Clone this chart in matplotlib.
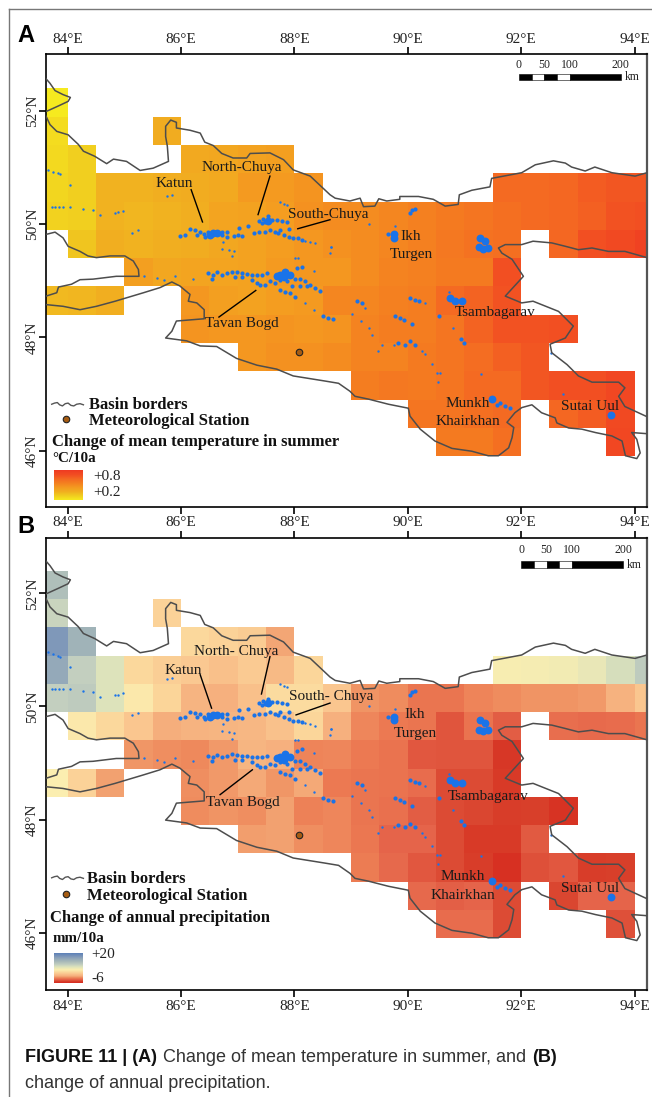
import matplotlib
matplotlib.use('Agg')
import matplotlib.pyplot as plt
from matplotlib.colors import LinearSegmentedColormap, Normalize
from matplotlib.lines import Line2D
import numpy as np

n = np.nan
W, H = 652., 1097.

lon_edges = np.arange(83.5, 95.0, 0.5)
lat_edges = np.arange(52.4, 45.85, -0.5)

# summer temperature trend, degC/10a, rows north to south
temp = np.array([
    [.20,n,n,n,n,n,n,n,n,n,n,n,n,n,n,n,n,n,n,n,n,n],
    [.24,n,n,n,.38,n,n,n,n,n,n,n,n,n,n,n,n,n,n,n,n,n],
    [.25,.28,n,n,n,.39,.40,.42,.43,n,n,n,n,n,n,n,n,n,n,n,n,n],
    [.26,.28,.36,.36,.37,.38,.39,.45,.45,.47,n,n,n,n,n,n,.62,.62,.63,.66,.68,.68],
    [.27,.28,.36,.35,.36,.37,.41,.42,.44,.48,.50,.50,.52,.54,.56,.58,.60,.62,.63,.65,.69,.70],
    [n,.31,.37,.36,.37,.38,.40,.42,.44,.46,.48,.50,.52,.54,.57,.59,.60,n,.63,.70,.73,.76],
    [n,n,n,.43,.40,.41,.41,.42,.45,.46,.46,.50,.53,.54,.56,.56,.70,n,n,n,n,n],
    [.34,.35,.37,n,n,.46,.43,.42,.44,.45,.52,.52,.54,.55,.62,.64,.69,n,n,n,n,n],
    [n,n,n,n,n,.47,.46,.46,.47,.46,.47,.53,.55,.55,.58,.64,.69,.69,.70,n,n,n],
    [n,n,n,n,n,n,n,.46,.48,.48,.50,.53,.53,.56,.58,.61,.65,.68,n,n,n,n],
    [n,n,n,n,n,n,n,n,n,n,n,.55,.57,.56,.58,.62,.62,.68,.70,.70,.74,n],
    [n,n,n,n,n,n,n,n,n,n,n,n,n,.58,.58,.60,.62,n,.63,.66,.73,n],
    [n,n,n,n,n,n,n,n,n,n,n,n,n,n,.56,.56,.60,n,n,n,.74,n],
])

# annual precipitation trend, mm/10a
prec = np.array([
    [12,n,n,n,n,n,n,n,n,n,n,n,n,n,n,n,n,n,n,n,n,n],
    [9.5,n,n,n,3,n,n,n,n,n,n,n,n,n,n,n,n,n,n,n,n,n],
    [17,13.5,n,n,n,3.5,3,2.5,-.3,n,n,n,n,n,n,n,n,n,n,n,n,n],
    [15,10,8,3.5,2.7,2.2,1.5,2.3,1,3.3,n,n,n,n,n,n,5.8,6,6.2,7,8.5,10.5],
    [10,10.5,8,5,3.2,.5,.2,1.5,3.8,3.8,2,-1,-1.3,-2.2,-2.2,-1.6,-1.3,-1,-1,-.8,.3,2],
    [n,5,3.5,2,0,.4,.6,.8,1.6,3.3,.2,-1.5,-2,-2.2,-3.6,-2.3,-3.3,n,-2.5,-2.7,-2.6,-2.2],
    [n,n,n,-.9,-1.2,-1.4,-.8,.6,.2,-1.6,-1.5,-2,-2.3,-3.5,-3.6,-3.6,-5,n,n,n,n,n],
    [5.5,3,-.5,n,n,-1.2,-.8,-.2,-.9,-.2,-2,-2.2,-2.3,-2.6,-4,-4,-4.8,n,n,n,n,n],
    [n,n,n,n,n,-1.3,-1,-1.2,-.5,-1.7,-1.5,-2.2,-2.4,-3.3,-4,-4.2,-4.6,-4.5,-5.3,n,n,n],
    [n,n,n,n,n,n,n,-.6,-.5,-1.2,-1.5,-2.1,-3,-3,-4,-4.8,-4.8,-3.4,n,n,n,n],
    [n,n,n,n,n,n,n,n,n,n,n,-1.9,-2.8,-3.5,-4,-4.6,-5.5,-3.8,-3.5,-4.6,-4.5,n],
    [n,n,n,n,n,n,n,n,n,n,n,n,n,-2.8,-3.2,-3,-4,n,-4.2,-3,-3,n],
    [n,n,n,n,n,n,n,n,n,n,n,n,n,n,-2.6,-2.6,-4,n,n,n,-3.8,n],
])

temp_levels = [.2,.3,.37,.45,.55,.62,.7,.8]
temp_colors = ['#f6ea1f','#f0c81f','#f1ae20','#f49a20','#f47d20','#f46a22','#f24f22','#ef3a22']
prec_levels = [-6,-4.5,-3,-2,-1,0,2,3.5,5.5,8,10,13,15,17,20]
prec_colors = ['#d6291e','#d83f2a','#e5644a','#ec7a52','#f09464','#f5ae7c','#fac68f','#fbd89c',
               '#fbeeb0','#dde3bb','#c3cfbf','#a5b7b8','#94a9b9','#7f98b9','#5c80b8']

def make_cmap(levels, colors):
    lo, hi = levels[0], levels[-1]
    return LinearSegmentedColormap.from_list('c', [((v-lo)/(hi-lo), c) for v, c in zip(levels, colors)], N=512), Normalize(lo, hi)

# basin border polylines (lon, lat)
border_a = [(83.62,52.57),(83.69,52.49),(83.78,52.36),(83.92,52.29),(84.05,52.24),(84.01,52.17),(83.84,52.09),(83.62,51.99)]
border_b = [(83.62,51.91),(83.69,51.76),(83.81,51.64),(84.01,51.58),(84.19,51.41),(84.28,51.29),(84.48,51.20),(84.69,51.07),
            (84.81,51.15),(85.04,51.11),(85.28,50.95),(85.51,50.99),(85.78,51.11),(85.76,51.38),(85.73,51.55),(85.73,51.73),
            (85.82,51.84),(85.92,51.80),(85.92,51.70),(86.16,51.66),(86.34,51.61),(86.42,51.45),(86.57,51.39),(86.72,51.25),
            (86.92,51.17),(87.16,51.17),(87.22,51.25),(87.57,51.26),(87.81,51.14),(87.98,50.96),(88.28,50.85),(88.63,50.52),
            (88.72,50.46),(88.98,50.41),(89.16,50.46),(89.22,50.31),(89.42,50.32),(89.49,50.45),(89.63,50.41),(89.86,50.44),
            (89.86,50.49),(90.19,50.49),(90.45,50.44),(90.66,50.32),(90.89,50.35),(90.91,50.52),(91.13,50.60),(91.45,50.66),
            (91.48,50.81),(92.01,50.91),(92.25,51.05),(92.57,51.12),(92.78,51.08),(92.89,51.01),(93.13,50.94),(93.30,51.01),
            (93.60,50.91),(94.01,50.85),(94.22,50.91)]
border_c = [(83.62,49.82),(83.78,49.86),(83.92,49.76),(84.01,49.61),(84.22,49.52),(84.36,49.44),(84.51,49.41),(84.75,49.44),
            (85.01,49.44),(85.16,49.35),(85.25,49.20),(85.26,49.08),(84.86,49.08),(84.45,49.03),(84.22,49.02),(84.07,48.94),
            (83.84,48.89),(83.81,48.79),(83.62,48.73)]
border_d = [(83.62,48.58),(83.92,48.55),(84.22,48.49),(84.51,48.55),(84.84,48.64),(85.34,48.79),(85.63,48.88),(85.84,48.98),
            (85.98,48.91),(86.16,48.76),(86.13,48.64),(86.28,48.61),(86.41,48.49),(86.41,48.33),(85.92,48.29),(85.84,48.11),
            (85.73,47.99),(86.10,47.94),(86.34,47.85),(86.63,47.84),(86.98,47.63),(87.34,47.51),(87.69,47.44),(87.98,47.32),
            (88.54,47.23),(88.78,47.19),(88.98,47.05),(89.07,46.96),(89.31,46.91),(89.66,46.82),(90.01,46.75),(90.04,46.61),
            (90.22,46.38),(90.48,46.17),(90.78,46.04),(91.13,45.99),(91.42,45.91),(91.60,45.91),(91.78,46.05),(91.84,46.23),
            (91.87,46.41),(91.75,46.50),(91.89,46.67),(92.01,46.76),(92.19,46.81),(92.36,46.67),(92.60,46.58),(92.63,46.49),
            (92.84,46.40),(93.07,46.38),(93.31,46.32),(93.60,46.26),(93.78,46.17),(93.84,45.91),(94.04,45.86),(94.10,45.96),
            (94.04,46.20),(93.95,46.32),(94.22,46.30)]
border_e = [(94.22,46.60),(93.83,46.78),(93.72,46.96),(93.83,47.11),(93.72,47.21),(93.25,47.21),(93.01,47.32),(92.81,47.52),
            (92.54,47.73),(92.51,47.88),(92.78,47.99),(92.92,48.20),(92.66,48.46),(92.21,48.64),(92.01,48.61),(91.72,48.73),
            (92.04,49.08),(91.84,49.38),(91.66,49.49),(91.60,49.58),(91.72,49.64),(92.01,49.64),(92.21,49.70),(92.54,49.67),
            (92.78,49.61),(93.01,49.55),(93.25,49.58),(93.54,49.52),(93.83,49.52),(94.22,49.41)]
borders = [border_a, border_b, border_c, border_d, border_e]

# glacier patches (lon, lat), small specks and larger blobs
glacier_small = [(83.66,50.96),(83.75,50.93),(83.83,50.90),(83.87,50.88),(84.04,50.69),(83.72,50.31),(83.78,50.31),(83.85,50.31),
    (83.92,50.31),(84.05,50.31),(84.28,50.27),(84.45,50.25),(84.57,50.17),(84.84,50.20),(84.98,50.24),(84.89,50.21),(85.13,49.85),
    (85.25,49.89),(85.75,50.49),(85.84,50.51),(86.75,49.69),(86.72,49.57),(86.84,49.55),(86.93,49.53),(86.90,49.43),(88.19,49.71),
    (88.28,49.69),(88.37,49.66),(87.75,50.40),(87.81,50.36),(87.87,50.34),(88.64,49.60),(88.63,49.49),(88.01,49.41),(88.07,49.41),
    (85.34,49.08),(85.57,49.05),(86.22,49.04),(88.34,49.17),(88.19,48.61),(88.34,48.48),(89.25,48.52),(89.01,48.42),(89.18,48.29),
    (89.31,48.17),(89.37,48.05),(90.31,48.60),(89.54,47.86),(89.75,47.86),(89.48,47.76),(90.25,47.76),(90.31,47.70),(90.42,47.53),
    (90.51,47.38),(90.57,47.38),(90.54,47.21),(90.73,48.80),(90.79,48.17),(91.29,47.36),(92.73,47.00),(92.53,47.73),(89.31,50.00),
    (88.65,49.60),(89.78,49.96),(85.90,49.08),(85.70,49.02)]
glacier_mid = [(85.98,49.79),(86.07,49.81),(86.16,49.91),(86.25,49.89),(86.28,49.81),(86.34,49.87),(86.40,49.82),(86.48,49.87),
    (86.43,49.78),(86.72,49.87),(86.81,49.87),(86.72,49.81),(86.81,49.78),(86.93,49.79),(87.01,49.81),(87.07,49.80),(87.03,49.93),
    (87.19,49.96),(87.28,49.84),(87.37,49.87),(87.37,50.06),(87.45,50.10),(87.53,50.14),(87.60,50.07),(87.69,50.07),(87.78,50.06),
    (87.87,50.04),(87.48,50.04),(87.43,50.02),(87.48,49.87),(87.57,49.90),(87.66,49.87),(87.75,49.90),(87.72,49.84),(87.81,49.81),
    (87.90,49.78),(87.98,49.75),(88.07,49.75),(88.13,49.72),(87.90,49.91),(86.48,49.13),(86.57,49.10),(86.63,49.15),(86.72,49.10),
    (86.81,49.13),(86.90,49.16),(86.98,49.15),(87.07,49.13),(87.16,49.12),(87.25,49.10),(87.34,49.10),(87.43,49.10),(87.51,49.13),
    (86.54,49.04),(86.95,49.06),(87.07,49.06),(87.25,49.02),(88.01,49.04),(88.10,49.03),(88.19,48.99),(88.28,48.93),(88.37,48.87),
    (88.45,48.82),(88.04,49.22),(88.13,49.24),(87.40,48.93),(87.48,48.93),(87.57,48.99),(87.66,48.96),(87.75,49.02),(87.87,48.99),
    (87.75,48.84),(87.84,48.81),(87.93,48.78),(88.01,48.72),(87.95,48.90),(88.10,48.90),(88.22,48.90),(87.34,48.97),(88.51,48.38),
    (88.60,48.35),(88.69,48.33),(89.10,48.64),(89.19,48.61),(90.04,48.70),(90.13,48.66),(90.19,48.64),(89.78,48.38),(89.86,48.35),
    (89.93,48.31),(90.07,48.24),(89.83,47.90),(89.95,47.87),(90.04,47.93),(90.13,47.87),(90.56,48.38),(90.94,47.97),(91.00,47.91),
    (91.62,46.85),(91.71,46.79),(91.57,46.81),(91.80,46.75),(90.07,50.26),(90.13,50.27),(90.04,50.20),(89.66,49.82)]
glacier_big = [(86.57,49.85),(86.51,49.81),(86.63,49.84),(87.54,50.06),(87.75,49.10),(87.84,49.16),(87.93,49.10),(87.81,49.06),
    (87.69,49.09),(90.83,48.64),(90.95,48.64),(90.74,48.70),(91.48,46.91),(93.59,46.63),(89.75,49.82),(89.75,49.76),(91.37,49.70),
    (91.28,49.76),(91.33,49.56),(91.42,49.58),(91.26,49.59)]

xticks = [84, 86, 88, 90, 92, 94]
xlabels = ['84°E', '86°E', '88°E', '90°E', '92°E', '94°E']
yticks = [46, 48, 50, 52]
ylabels = ['46°N', '48°N', '50°N', '52°N']
scale_edges_km = [0, 25, 50, 75, 100, 200]
scale_labels_km = [0, 50, 100, 200]
wave_dx = [0, .05, .1, .14, .19, .24, .29, .34, .39, .44, .5, .56]
wave_dy = [0, .02, .03, -.01, -.03, .01, .02, -.02, -.03, 0, .01, -.01]
serif = 'Liberation Serif'
dark = '#222222'

fig = plt.figure(figsize=(W/100, H/100), dpi=100)

def panel(top, bottom, ylim, grid, levels, colors, lab, leg, sb):
    ax = fig.add_axes([46/W, 1-bottom/H, (647-46)/W, (bottom-top)/H])
    cmap, norm = make_cmap(levels, colors)
    ax.pcolormesh(lon_edges, lat_edges, np.ma.masked_invalid(grid), cmap=cmap, norm=norm, antialiased=False, rasterized=True, zorder=1)
    for b in borders:
        b = np.array(b)
        ax.plot(b[:,0], b[:,1], color='#4d4d4d', lw=1.1, zorder=3)
    for pts, s in ((glacier_small, 3), (glacier_mid, 9), (glacier_big, 32)):
        pts = np.array(pts)
        ax.scatter(pts[:,0], pts[:,1], s=s, color='#1a73e8', marker='o', linewidths=0, zorder=2)
    ax.scatter([88.08], [lab['station']], s=22, color='#a65c12', edgecolor='#222222', linewidths=.8, zorder=4)
    for name, x, y, ha in lab['names']:
        ax.text(x, y, name, family=serif, fontsize=11, ha=ha, va='center', color='#1a1a1a', zorder=5)
    for xs, ys in lab['leaders']:
        ax.plot(xs, ys, color='k', lw=1.0, zorder=5)
    ax.set_xlim(83.62, 94.22)
    ax.set_ylim(*ylim)
    ax.set_xticks(xticks)
    ax.set_yticks(yticks)
    ax.set_xticklabels(xlabels, family=serif, fontsize=11, color=dark)
    ax.set_yticklabels(ylabels, family=serif, fontsize=11, color=dark, rotation=90, va='center')
    ax.tick_params(axis='x', top=True, labeltop=True, bottom=True, labelbottom=False, length=5, width=1.2, pad=1)
    ax.tick_params(axis='y', left=True, length=4.7, width=1.2, pad=0.5)
    if lab['bottom_labels']:
        for v, s in zip(xticks, xlabels):
            ax.annotate(s, xy=(v, 0), xycoords=('data', 'axes fraction'), xytext=(0, -17), textcoords='offset pixels',
                        family=serif, fontsize=11, color=dark, ha='center', va='center', annotation_clip=False)
    for s in ax.spines.values():
        s.set_linewidth(1.2)
    ax.spines['right'].set_color('#555555')
    ax.spines['right'].set_linewidth(1.6)

    # scale bar
    km = np.array(scale_edges_km)*0.009
    for i in range(5):
        ax.barh(sb['y'], km[i+1]-km[i], sb['h'], left=sb['x']+km[i], color='k' if i % 2 == 0 else 'w',
                edgecolor='k', linewidth=.4, zorder=4)
    for k in scale_labels_km:
        ax.text(sb['x']+k*0.009, sb['ty'], str(k), family=serif, fontsize=8.5, ha='center', va='center', color=dark)
    ax.text(sb['kx'], sb['y'], 'km', family=serif, fontsize=8.5, ha='left', va='center', color=dark)

    # legend
    ax.plot(83.72+np.array(wave_dx), leg['wave_lat']+np.array(wave_dy), color='#555555', lw=1.0)
    ax.scatter([83.98], [leg['dot_lat']], s=22, color='#a65c12', edgecolor='#222222', linewidths=.8, zorder=4)
    for txt, x, y, fs in leg['texts']:
        fig.text(x/W, 1-y/H, txt, family=serif, fontweight='bold', fontsize=fs, ha='left', va='center', color='#111111')
    cax = fig.add_axes([leg['cb'][0]/W, 1-leg['cb'][3]/H, (leg['cb'][1]-leg['cb'][0])/W, (leg['cb'][3]-leg['cb'][2])/H])
    cax.imshow(np.linspace(levels[-1], levels[0], 256)[:, None], cmap=cmap, norm=norm, aspect='auto')
    cax.axis('off')
    for txt, x, y in leg['cb_labels']:
        fig.text(x/W, 1-y/H, txt, family=serif, fontsize=11, ha='left', va='center', color=dark)
    return ax

panel(54, 506.7, (45.01, 53.007), temp, temp_levels, temp_colors,
      dict(station=47.74, bottom_labels=False,
           names=[('North-Chuya',87.07,51.0,'center'),('Katun',85.89,50.72,'center'),('South-Chuya',87.88,50.17,'left'),
                  ('Ikh',90.06,49.78,'center'),('Turgen',90.06,49.46,'center'),('Tavan Bogd',87.07,48.25,'center'),
                  ('Tsambagarav',91.54,48.44,'center'),('Munkh',91.06,46.83,'center'),('Khairkhan',91.06,46.51,'center'),
                  ('Sutai Uul',93.22,46.78,'center')],
           leaders=[((86.18,86.38),(50.61,50.04)),((87.57,87.36),(50.85,50.17)),((88.06,88.63),(49.92,50.08)),((86.67,87.32),(48.36,48.83))]),
      dict(wave_lat=46.82, dot_lat=46.56,
           texts=[('Basin borders',89,405,12),('Meteorological Station',89,421,12),('Change of mean temperature in summer',52,442,12),('°C/10a',52,459,10.8)],
           cb=(54,83,470,499.5), cb_labels=[('+0.8',93,477),('+0.2',93,493)]),
      dict(x=91.96, y=52.60, h=.12, ty=52.82, kx=93.82))

panel(537.7, 990, (44.986, 52.984), prec, prec_levels, prec_colors,
      dict(station=47.72, bottom_labels=True,
           names=[('North- Chuya',86.97,50.97,'center'),('Katun',86.04,50.64,'center'),('South- Chuya',87.91,50.17,'left'),
                  ('Ikh',90.13,49.85,'center'),('Turgen',90.13,49.53,'center'),('Tavan Bogd',87.10,48.31,'center'),
                  ('Tsambagarav',91.41,48.41,'center'),('Munkh',90.97,46.99,'center'),('Khairkhan',90.97,46.66,'center'),
                  ('Sutai Uul',93.22,46.78,'center')],
           leaders=[((86.34,86.54),(50.56,49.97)),((87.57,87.42),(50.88,50.22)),((88.03,88.63),(49.85,50.06)),((86.69,87.26),(48.44,48.88))]),
      dict(wave_lat=46.97, dot_lat=46.68,
           texts=[('Basin borders',87,879,12),('Meteorological Station',87,896,12),('Change of annual precipitation',50,918,12),('mm/10a',53,938,10.8)],
           cb=(53.5,82,953,983), cb_labels=[('+20',91,954),('-6',91,979)]),
      dict(x=92.0, y=52.51, h=.13, ty=52.76, kx=93.86))

# panel letters
fig.text(17/W, 1-35/H, 'A', family='Liberation Sans', fontweight='bold', fontsize=17, ha='left', va='center', color='k')
fig.text(17/W, 1-526.5/H, 'B', family='Liberation Sans', fontweight='bold', fontsize=17, ha='left', va='center', color='k')

# page frame
fig.add_artist(Line2D([9/W, 9/W], [1-8.5/H, 0], color='#777777', lw=1.0))
fig.add_artist(Line2D([9/W, 1], [1-8.5/H, 1-8.5/H], color='#777777', lw=1.0))

# caption with mixed weights
def caption(x, y, runs):
    r = fig.canvas.get_renderer()
    for txt, weight, col in runs:
        t = fig.text(x/W, 1-y/H, txt, family='Liberation Sans', fontweight=weight, fontsize=13, ha='left', va='center', color=col)
        x = t.get_window_extent(r).x1 + 6

caption(25, 1058, [('FIGURE 11 | (A)', 'bold', '#111111'), ('Change of mean temperature in summer, and', 'normal', '#333333'), ('(B)', 'bold', '#111111')])
caption(25, 1083, [('change of annual precipitation.', 'normal', '#333333')])

plt.savefig('out.png', dpi=100)
